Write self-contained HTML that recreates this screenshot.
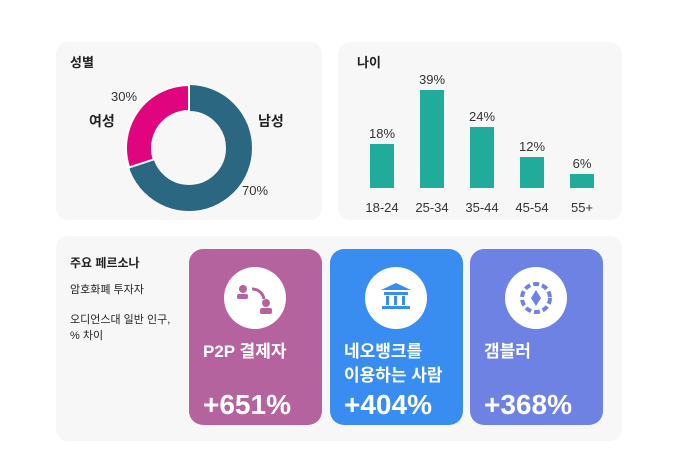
<!DOCTYPE html><html><head><meta charset="utf-8"><style>
body{margin:0;width:690px;height:460px;background:#fff;font-family:"Liberation Sans","Noto Sans CJK KR",sans-serif;position:relative;overflow:hidden;color:#222}
.p{position:absolute;background:#f7f7f7;border-radius:12px}
.t{position:absolute;white-space:nowrap}
.card{position:absolute;top:249px;width:133px;height:176px;border-radius:14px;color:#fff}
.ic{position:absolute;left:35px;top:18px;width:62px;height:62px;border-radius:50%;background:#fff}
.nm{position:absolute;left:14px;top:91px;font-size:17px;font-weight:bold;line-height:24px}
.pc{position:absolute;left:14px;top:140px;font-size:28px;font-weight:bold}
</style></head><body>
<div class="p" style="left:56px;top:42px;width:266px;height:178px"></div>
<div class="p" style="left:338px;top:42px;width:284px;height:178px"></div>
<div class="p" style="left:56px;top:236px;width:566px;height:205px"></div>
<div class="t" style="left:70px;top:52px;font-size:13px;font-weight:bold">성별</div>
<div class="t" style="left:357px;top:52px;font-size:13px;font-weight:bold">나이</div>
<svg style="position:absolute;left:0;top:0" width="690" height="460">
<circle cx="189" cy="148" r="50" fill="none" stroke="#2b6781" stroke-width="26"/>
<path d="M189 85 A63 63 0 0 0 129.1 167.5 L153.8 159.4 A37 37 0 0 1 189 111 Z" fill="#e0047f" stroke="#fff" stroke-width="2"/>
<g fill="#20ab9a"><rect x="370" y="144" width="24" height="44"/><rect x="420" y="90" width="24" height="98"/><rect x="470" y="127" width="24" height="61"/><rect x="520" y="157" width="24" height="31"/><rect x="570" y="174" width="24" height="14"/></g>
<g font-size="13" text-anchor="middle" fill="#333" font-family="Liberation Sans, sans-serif">
<text x="382" y="138">18%</text><text x="432" y="84">39%</text><text x="482" y="121">24%</text><text x="532" y="151">12%</text><text x="582" y="168">6%</text>
<text x="382" y="212">18-24</text><text x="432" y="212">25-34</text><text x="482" y="212">35-44</text><text x="532" y="212">45-54</text><text x="582" y="212">55+</text>
<text x="124" y="101">30%</text><text x="255" y="195">70%</text></g>
</svg>
<div class="t" style="left:89px;top:111px;font-size:14px;font-weight:bold">여성</div>
<div class="t" style="left:258px;top:111px;font-size:14px;font-weight:bold">남성</div>
<div class="t" style="left:70px;top:254px;font-size:12px;font-weight:bold">주요 페르소나</div>
<div class="t" style="left:70px;top:281px;font-size:11px">암호화폐 투자자</div>
<div class="t" style="left:70px;top:312px;font-size:11px;line-height:16px">오디언스대 일반 인구,<br>% 차이</div>
<div class="card" style="left:189px;background:#b5639e"><div class="ic"></div><div class="nm">P2P 결제자</div><div class="pc">+651%</div></div>
<div class="card" style="left:330px;background:#3a8df0"><div class="ic"></div><div class="nm">네오뱅크를<br>이용하는 사람</div><div class="pc">+404%</div></div>
<div class="card" style="left:470px;background:#6d82e3"><div class="ic"></div><div class="nm">갬블러</div><div class="pc">+368%</div></div>
<svg style="position:absolute;left:0;top:0" width="690" height="460">
<g fill="#b5639e"><circle cx="243" cy="289" r="4"/><rect x="237" y="294" width="11" height="5" rx="2"/><circle cx="266" cy="303" r="4"/><rect x="260" y="308" width="12" height="6" rx="2"/><path d="M252 289 a12 12 0 0 1 12 10" stroke="#b5639e" stroke-width="3" fill="none"/></g>
<g fill="#3a8df0" transform="translate(15,0)"><path d="M381 283 L396 290 L366 290 Z"/><rect x="369" y="292" width="24" height="3"/><rect x="371" y="296" width="3" height="9"/><rect x="379" y="296" width="3" height="9"/><rect x="387" y="296" width="3" height="9"/><rect x="367" y="306" width="28" height="3"/></g>
<circle cx="536" cy="298" r="14" fill="none" stroke="#6d82e3" stroke-width="4" stroke-dasharray="6 3"/><path d="M536 290 L541 298 L536 306 L531 298 Z" fill="#6d82e3"/>
</svg>
</body></html>
